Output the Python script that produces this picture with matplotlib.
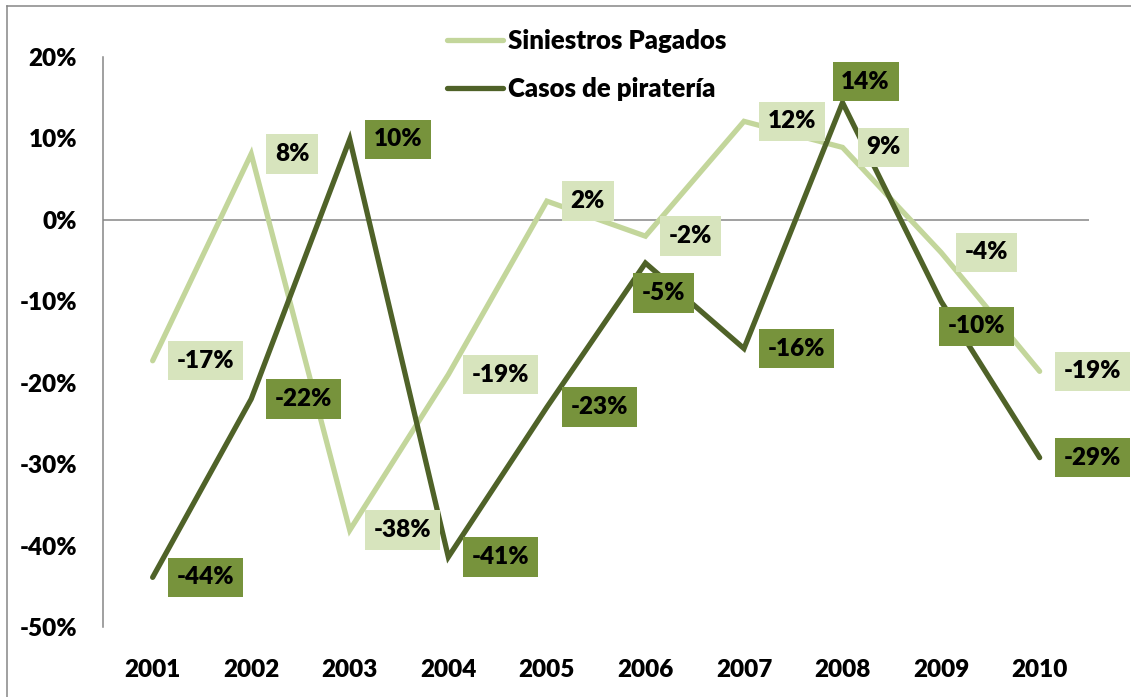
import matplotlib
matplotlib.use("Agg")
import matplotlib.pyplot as plt
from matplotlib.lines import Line2D
from matplotlib.ticker import FuncFormatter, MultipleLocator

# Data (percent change per year)
years = ["2001", "2002", "2003", "2004", "2005", "2006", "2007", "2008", "2009", "2010"]
siniestros = [-17.3, 8.1, -38.1, -19.0, 2.3, -2.0, 12.1, 8.9, -4.0, -18.6]
pirateria = [-43.9, -22.0, 9.9, -41.4, -23.0, -5.3, -15.8, 14.4, -10.0, -29.2]
names = ["Siniestros Pagados", "Casos de piratería"]

# Styles
light_line, light_box = "#c3d69b", "#d7e4bd"
dark_line, dark_box = "#4f6228", "#77933c"
grey = "#868686"
fs = 17.5
weight = "heavy"
pad = 0.36
pad_px = pad * fs * 100 / 72

plt.rcParams["font.family"] = ["Lato", "DejaVu Sans"]
plt.rcParams["font.weight"] = weight

# label box offsets (px): box left edge relative to point, vertical shift
light_offsets = [(15, 0)] * 10
dark_offsets = [(15, 0)] * 10
dark_offsets[5] = (-12, -30)
dark_offsets[7] = (-10, 21)
dark_offsets[8] = (-2, -25)

fig = plt.figure(figsize=(11.31, 6.97), dpi=100)
ax = fig.add_axes([0.0914, 0.1004, 0.8714, 0.8178])

x = list(range(len(years)))
ax.axhline(0, color=grey, lw=1.1, zorder=1)
ax.plot(x, siniestros, color=light_line, lw=3.8, solid_capstyle="round",
        solid_joinstyle="miter", label=names[0], zorder=2)
ax.plot(x, pirateria, color=dark_line, lw=3.8, solid_capstyle="round",
        solid_joinstyle="miter", label=names[1], zorder=3)


def add_labels(values, offsets, boxcolor):
    for xi, v, (dx, dy) in zip(x, values, offsets):
        ax.annotate(f"{v:.0f}%", (xi, v), xytext=(dx + pad_px, dy),
                    textcoords="offset pixels", ha="left", va="center",
                    fontsize=fs, fontweight=weight, color="black", zorder=5,
                    bbox=dict(boxstyle=f"square,pad={pad}", fc=boxcolor, ec="none"))


add_labels(siniestros, light_offsets, light_box)
add_labels(pirateria, dark_offsets, dark_box)

ax.set_xlim(-0.5, 9.5)
ax.set_ylim(-50, 20)
ax.set_xticks(x)
ax.set_xticklabels(years)
ax.yaxis.set_major_locator(MultipleLocator(10))
ax.yaxis.set_major_formatter(FuncFormatter(lambda v, p: f"{v:.0f}%"))
ax.tick_params(axis="both", length=0, labelsize=fs)
ax.tick_params(axis="y", pad=19)
ax.tick_params(axis="x", pad=23)

for s in ["top", "right", "bottom"]:
    ax.spines[s].set_visible(False)
ax.spines["left"].set_color(grey)
ax.spines["left"].set_linewidth(1.1)

leg = ax.legend(loc="upper left", bbox_to_anchor=(0.395, 0.958),
                bbox_transform=fig.transFigure, frameon=False,
                prop={"size": 18.5, "weight": weight},
                borderpad=0, borderaxespad=0, handlelength=2.2,
                handletextpad=0.2, labelspacing=0.92)

# outer chart frame (left and top edges visible)
fig.add_artist(Line2D([6.5 / 1131, 6.5 / 1131], [0, 1 - 6 / 697],
                      transform=fig.transFigure, color=grey, lw=1.1))
fig.add_artist(Line2D([6.5 / 1131, 1], [1 - 6 / 697, 1 - 6 / 697],
                      transform=fig.transFigure, color=grey, lw=1.1))

fig.savefig("out.png", dpi=100)
